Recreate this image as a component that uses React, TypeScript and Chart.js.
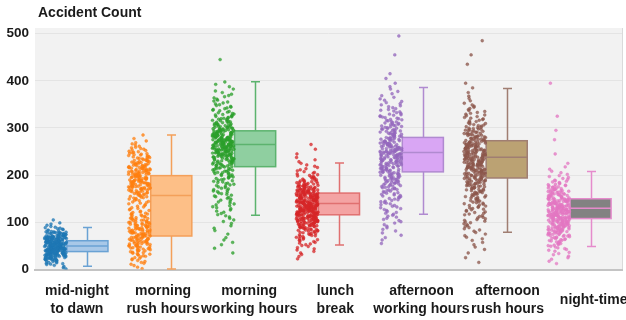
import { useEffect, useRef } from "react";
import { Chart, registerables } from "chart.js";

Chart.register(...registerables);

// Time-of-day groups shown along the x axis
const categories: (string | string[])[] = [
  ["mid-night", "to dawn"],
  ["morning", "rush hours"],
  ["morning", "working hours"],
  ["lunch", "break"],
  ["afternoon", "working hours"],
  ["afternoon", "rush hours"],
  "night-time",
];

// Box-plot summary per group (accident counts)
const boxMin = [7, 1, 115, 52, 117, 79, 49];
const boxQ1 = [38, 71, 218, 116, 207, 194, 108];
const boxMedian = [50, 157, 265, 140, 248, 238, 130];
const boxQ3 = [61, 199, 294, 162, 280, 273, 150];
const boxMax = [89, 285, 398, 226, 386, 384, 208];

// Daily observations per group, counted in bands of 10 accidents (band k = [10k, 10k+10))
const midnightCounts = [4, 11, 26, 42, 52, 52, 42, 26, 10, 4, 1];
const morningRushCounts = [3, 5, 7, 10, 14, 16, 18, 18, 17, 16, 13, 10, 7, 6, 8, 11, 15, 19, 20, 20, 20, 18, 15, 12, 10, 7, 4, 2, 1];
const morningWorkCounts = [0, 0, 0, 1, 1, 2, 2, 1, 2, 2, 3, 4, 4, 5, 5, 6, 7, 7, 8, 9, 11, 13, 15, 19, 23, 27, 29, 28, 24, 20, 15, 12, 10, 7, 6, 5, 4, 3, 2, 2, 0, 0, 0, 0, 1];
const lunchCounts = [0, 0, 2, 3, 4, 6, 8, 11, 15, 21, 28, 32, 35, 36, 35, 32, 27, 20, 14, 9, 6, 4, 3, 2, 1, 1, 1];
const afternoonWorkCounts = [0, 0, 0, 0, 0, 1, 2, 2, 3, 3, 4, 5, 5, 6, 7, 8, 9, 11, 13, 14, 15, 16, 17, 19, 22, 20, 17, 15, 14, 12, 11, 9, 8, 6, 5, 4, 3, 2, 2, 1, 1, 1, 0, 0, 0, 1, 0, 0, 0, 1];
const afternoonRushCounts = [0, 1, 1, 1, 2, 2, 3, 3, 4, 5, 6, 6, 7, 8, 9, 10, 12, 14, 16, 18, 20, 21, 21, 22, 22, 21, 19, 16, 14, 12, 9, 7, 6, 5, 4, 2, 2, 1, 1, 1, 0, 0, 0, 1, 0, 1, 0, 0, 1];
const nightCounts = [0, 2, 3, 4, 6, 9, 12, 16, 21, 25, 28, 30, 30, 28, 25, 20, 16, 12, 8, 5, 3, 2, 1, 0, 1, 0, 0, 1, 0, 1, 0, 0, 1, 0, 0, 0, 0, 0, 0, 1];

const groupCounts = [
  midnightCounts,
  morningRushCounts,
  morningWorkCounts,
  lunchCounts,
  afternoonWorkCounts,
  afternoonRushCounts,
  nightCounts,
];

const pointColors = ["#1f77b4", "#ff7f0e", "#2ca02c", "#d62728", "#9467bd", "#8c564b", "#e377c2"];
const boxFills = ["#a8c8e8", "#fdbf87", "#8fcfa0", "#f4a3a3", "#d9a6f4", "#bba273", "#828282"];
const boxStrokes = ["#6aa2d4", "#f4a05a", "#5cb36e", "#e07070", "#b08ad0", "#a07e72", "#e58bcc"];

const BAND = 10;
const STRIP_CENTER = -0.255;
const STRIP_HALF = 0.13;
const BOX_LEFT = -0.12;
const BOX_RIGHT = 0.37;
const BOX_MID = 0.125;

// Deterministic horizontal jitter in [0, 1) for dot number n of group g
function jitter(n: number, g: number) {
  let h = (Math.imul(n + 1, 374761393) + Math.imul(g + 1, 668265263)) | 0;
  h = Math.imul(h ^ (h >>> 13), 1274126177);
  h ^= h >>> 16;
  return (h >>> 0) / 4294967296;
}

// Place each band's observations evenly inside the band and jitter them across the strip
function stripPoints(groupIndex: number) {
  const counts = groupCounts[groupIndex];
  const pts: { x: number; y: number }[] = [];
  let n = 0;
  counts.forEach((c, band) => {
    for (let j = 0; j < c; j++) {
      n += 1;
      const y = band * BAND + ((j + 0.5) / c) * BAND;
      const spread = jitter(n, groupIndex) - 0.5;
      pts.push({ x: groupIndex + STRIP_CENTER + spread * 2 * STRIP_HALF, y });
    }
  });
  return pts;
}

const FONT = "'Liberation Sans', Arial, Helvetica, sans-serif";

const plotBackground = {
  id: "plotBackground",
  beforeDraw(chart: any) {
    const { ctx, chartArea } = chart;
    ctx.save();
    ctx.fillStyle = "#f2f2f2";
    ctx.fillRect(chartArea.left, chartArea.top, chartArea.right - chartArea.left, chartArea.bottom - chartArea.top);
    ctx.strokeStyle = "#dadada";
    ctx.lineWidth = 1;
    ctx.beginPath();
    ctx.moveTo(chartArea.right + 0.5, chartArea.top);
    ctx.lineTo(chartArea.right + 0.5, chartArea.bottom);
    ctx.stroke();
    ctx.restore();
  },
};

const yTitle = {
  id: "yTitle",
  afterDraw(chart: any) {
    const { ctx, chartArea } = chart;
    ctx.save();
    ctx.font = `bold 14px ${FONT}`;
    ctx.fillStyle = "#1a1a1a";
    ctx.textAlign = "left";
    ctx.textBaseline = "middle";
    ctx.fillText("Accident Count", chartArea.left + 3, 13);
    ctx.restore();
  },
};

const boxPlots = {
  id: "boxPlots",
  beforeDatasetsDraw(chart: any) {
    const { ctx } = chart;
    const xs = chart.scales.x;
    const ys = chart.scales.y;
    ctx.save();
    for (let i = 0; i < categories.length; i++) {
      const left = xs.getPixelForValue(i + BOX_LEFT);
      const right = xs.getPixelForValue(i + BOX_RIGHT);
      const mid = Math.round(xs.getPixelForValue(i + BOX_MID)) + 0.5;
      const yMin = ys.getPixelForValue(boxMin[i]);
      const yQ1 = ys.getPixelForValue(boxQ1[i]);
      const yMed = ys.getPixelForValue(boxMedian[i]);
      const yQ3 = ys.getPixelForValue(boxQ3[i]);
      const yMax = ys.getPixelForValue(boxMax[i]);
      ctx.strokeStyle = boxStrokes[i];
      ctx.lineWidth = 1.5;
      // whiskers and caps
      ctx.beginPath();
      ctx.moveTo(mid, yQ3);
      ctx.lineTo(mid, yMax);
      ctx.moveTo(mid - 4.5, yMax);
      ctx.lineTo(mid + 4.5, yMax);
      ctx.moveTo(mid, yQ1);
      ctx.lineTo(mid, yMin);
      ctx.moveTo(mid - 4.5, yMin);
      ctx.lineTo(mid + 4.5, yMin);
      ctx.stroke();
      // box
      ctx.fillStyle = boxFills[i];
      ctx.fillRect(left, yQ3, right - left, yQ1 - yQ3);
      ctx.strokeRect(left, yQ3, right - left, yQ1 - yQ3);
      // median
      ctx.beginPath();
      ctx.moveTo(left, yMed);
      ctx.lineTo(right, yMed);
      ctx.stroke();
    }
    ctx.restore();
  },
};

export default function App() {
  const canvasRef = useRef<HTMLCanvasElement | null>(null);

  useEffect(() => {
    document.body.style.margin = "0";
    const canvas = canvasRef.current;
    if (!canvas) return;

    const datasets = categories.map((_, i) => ({
      label: Array.isArray(categories[i]) ? (categories[i] as string[]).join(" ") : (categories[i] as string),
      data: stripPoints(i),
      backgroundColor: pointColors[i] + "c0",
      borderColor: pointColors[i],
      borderWidth: 0.4,
      pointRadius: 1.45,
      pointHoverRadius: 1.45,
    }));

    const chart = new Chart(canvas, {
      type: "scatter",
      data: { datasets },
      options: {
        animation: false,
        responsive: false,
        devicePixelRatio: 1,
        layout: { padding: { top: 28, right: 4, bottom: 0, left: 6 } },
        plugins: {
          legend: { display: false },
          tooltip: { enabled: false },
          title: { display: false },
        },
        scales: {
          x: {
            type: "linear",
            min: -0.5,
            max: 6.5,
            afterBuildTicks: (scale: any) => {
              scale.ticks = categories.map((_, i) => ({ value: i + i * 0.027 }));
            },
            afterFit: (scale: any) => {
              scale.height = 50.5;
              scale.paddingLeft = 0;
              scale.paddingRight = 0;
            },
            ticks: {
              autoSkip: false,
              maxRotation: 0,
              padding: 22,
              crossAlign: "center",
              color: "#1a1a1a",
              font: { family: FONT, size: 14, weight: "bold", lineHeight: 1.25 },
              callback: (_v: any, index: number) => categories[index] as any,
            },
            grid: { display: false, drawTicks: false },
            border: { display: true, color: "#c4c4c4", width: 2 },
          },
          y: {
            type: "linear",
            min: 0,
            max: 512,
            afterBuildTicks: (scale: any) => {
              scale.ticks = [0, 100, 200, 300, 400, 500].map((v) => ({ value: v }));
            },
            afterFit: (scale: any) => {
              scale.width = 29;
            },
            ticks: {
              padding: 6,
              color: "#1a1a1a",
              font: { family: FONT, size: 13.5, weight: "bold" },
            },
            grid: { color: "#e4e4e4", lineWidth: 1, drawTicks: false },
            border: { display: false },
          },
        },
      },
      plugins: [plotBackground, boxPlots, yTitle],
    });

    return () => chart.destroy();
  }, []);

  return <canvas ref={canvasRef} width={626} height={320} style={{ display: "block" }} />;
}
